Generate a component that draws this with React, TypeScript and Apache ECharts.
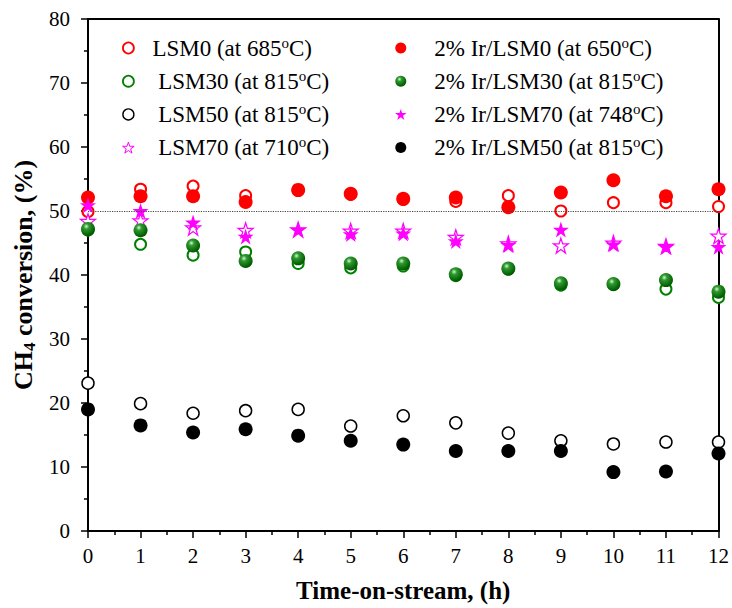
import React, { useEffect, useRef } from "react";
import * as echarts from "echarts";

const hours = [0, 1, 2, 3, 4, 5, 6, 7, 8, 9, 10, 11, 12];

const lsm0 = [49.9, 53.4, 53.9, 52.4, 53.2, 52.6, 51.8, 51.5, 52.4, 50.0, 51.3, 51.3, 50.7];
const lsm30 = [47.0, 44.8, 43.1, 43.6, 41.8, 41.1, 41.4, 39.9, 40.9, 38.4, 38.5, 37.8, 36.5];
const lsm50 = [23.1, 19.9, 18.4, 18.8, 19.0, 16.4, 18.0, 16.9, 15.3, 14.1, 13.6, 13.9, 13.9];
const lsm70 = [48.4, 48.5, 47.4, 47.0, 47.1, 46.9, 46.9, 45.9, 44.9, 44.6, 45.0, 44.5, 46.1];
const irLsm0 = [52.1, 52.3, 52.3, 51.4, 53.3, 52.7, 51.9, 52.1, 50.6, 52.9, 54.8, 52.3, 53.4];
const irLsm30 = [47.2, 47.0, 44.6, 42.2, 42.6, 41.8, 41.8, 40.1, 41.0, 38.7, 38.6, 39.2, 37.4];
const irLsm70 = [50.9, 50.0, 48.2, 46.0, 47.1, 46.4, 46.5, 45.3, 44.7, 47.1, 44.8, 44.4, 44.4];
const irLsm50 = [19.0, 16.5, 15.4, 15.9, 14.9, 14.1, 13.5, 12.5, 12.5, 12.5, 9.2, 9.3, 12.1];

const leftNames = ["LSM0", "LSM30", "LSM50", "LSM70"];
const leftTemps = ["685", "815", "815", "710"];
const rightNames = ["2% Ir/LSM0", "2% Ir/LSM30", "2% Ir/LSM70", "2% Ir/LSM50"];
const rightTemps = ["650", "815", "748", "815"];

const FONT = "'Liberation Serif', 'Times New Roman', Times, serif";
const STAR =
  "path://M50,0L61.2,34.5L97.6,34.5L68.2,55.9L79.4,90.5L50,69.1L20.6,90.5L31.8,55.9L2.4,34.5L38.8,34.5Z";

const toPts = (vals: number[]) => hours.map((h, i) => [h, vals[i]]);

export default function App() {
  const ref = useRef<HTMLDivElement>(null);
  useEffect(() => {
    if (!ref.current) return;
    const chart = echarts.init(ref.current, null, { renderer: "svg" });

    const greenBall = new echarts.graphic.RadialGradient(0.38, 0.32, 0.65, [
      { offset: 0, color: "#d8f5d8" },
      { offset: 0.3, color: "#2f9a2f" },
      { offset: 1, color: "#005a00" },
    ]);

    const styles: Record<string, { icon: string; itemStyle: any }> = {
      LSM0: { icon: "circle", itemStyle: { color: "#fff", borderColor: "#ff0000", borderWidth: 1.8 } },
      LSM30: { icon: "circle", itemStyle: { color: "#fff", borderColor: "#008000", borderWidth: 1.8 } },
      LSM50: { icon: "circle", itemStyle: { color: "#fff", borderColor: "#000", borderWidth: 1.4 } },
      LSM70: { icon: STAR, itemStyle: { color: "#fff", borderColor: "#ff00ff", borderWidth: 1 } },
      "2% Ir/LSM0": { icon: "circle", itemStyle: { color: "#ff0000", borderWidth: 0 } },
      "2% Ir/LSM30": { icon: "circle", itemStyle: { color: greenBall, borderWidth: 0 } },
      "2% Ir/LSM70": { icon: STAR, itemStyle: { color: "#ff00ff", borderWidth: 0 } },
      "2% Ir/LSM50": { icon: "circle", itemStyle: { color: "#000", borderWidth: 0 } },
    };

    const labelMap: Record<string, string> = {};
    leftNames.forEach((n, i) => {
      labelMap[n] = `{t|${i === 0 ? "" : " "}${n} (at ${leftTemps[i]}}{s|o}{t|C)}`;
    });
    rightNames.forEach((n, i) => {
      labelMap[n] = `{t|${n} (at ${rightTemps[i]}}{s|o}{t|C)}`;
    });

    const legendText = {
      fontFamily: FONT,
      fontSize: 23,
      color: "#000",
      rich: {
        t: { fontFamily: FONT, fontSize: 23, lineHeight: 26, color: "#000" },
        s: {
          fontFamily: FONT,
          fontSize: 15,
          lineHeight: 26,
          color: "#000",
          verticalAlign: "top",
        },
      },
    };

    const legendBase = {
      orient: "vertical",
      top: 35,
      padding: 0,
      itemHeight: 11,
      itemGap: 8.7,
      selectedMode: false,
      formatter: (n: string) => labelMap[n],
      textStyle: legendText,
    };

    const axisLabelStyle = { fontFamily: FONT, fontSize: 21, color: "#000" };

    const option: any = {
      animation: false,
      backgroundColor: "#fff",
      textStyle: { fontFamily: FONT },
      grid: { left: 88, right: 11, top: 19, bottom: 73, containLabel: false },
      legend: [
        {
          ...legendBase,
          left: 122,
          itemWidth: 38,
          data: leftNames.map((n) => ({ name: n, ...styles[n] })),
        },
        {
          ...legendBase,
          left: 395,
          itemWidth: 57,
          data: rightNames.map((n) => ({ name: n, ...styles[n] })),
        },
      ],
      xAxis: [
        {
          type: "value",
          min: 0,
          max: 12,
          interval: 1,
          position: "bottom",
          name: "Time-on-stream, (h)",
          nameLocation: "middle",
          nameGap: 47,
          nameTextStyle: { fontFamily: FONT, fontSize: 25, fontWeight: "bold", color: "#000" },
          axisLine: { show: true, onZero: false, lineStyle: { color: "#000", width: 2 } },
          axisTick: { show: true, inside: false, length: 7, lineStyle: { color: "#000", width: 1.5 } },
          minorTick: { show: true, splitNumber: 2, length: 4, lineStyle: { color: "#000", width: 1.5 } },
          axisLabel: { ...axisLabelStyle, margin: 14 },
          splitLine: { show: false },
        },
        {
          type: "value",
          min: 0,
          max: 12,
          position: "top",
          axisLine: { show: true, onZero: false, lineStyle: { color: "#000", width: 2 } },
          axisTick: { show: false },
          axisLabel: { show: false },
          splitLine: { show: false },
        },
      ],
      yAxis: [
        {
          type: "value",
          min: 0,
          max: 80,
          interval: 10,
          position: "left",
          name: "{t|CH}{b|4}{t| conversion, (%)}",
          nameLocation: "middle",
          nameRotate: 90,
          nameGap: 50,
          nameTextStyle: {
            fontFamily: FONT,
            fontSize: 26,
            fontWeight: "bold",
            color: "#000",
            rich: {
              t: { fontFamily: FONT, fontSize: 26, fontWeight: "bold", color: "#000", lineHeight: 30 },
              b: {
                fontFamily: FONT,
                fontSize: 17,
                fontWeight: "bold",
                color: "#000",
                lineHeight: 30,
                verticalAlign: "bottom",
              },
            },
          },
          axisLine: { show: true, onZero: false, lineStyle: { color: "#000", width: 2 } },
          axisTick: { show: true, inside: false, length: 7, lineStyle: { color: "#000", width: 1.5 } },
          minorTick: { show: true, splitNumber: 2, length: 4, lineStyle: { color: "#000", width: 1.5 } },
          axisLabel: { ...axisLabelStyle, margin: 18 },
          splitLine: { show: false },
        },
        {
          type: "value",
          min: 0,
          max: 80,
          position: "right",
          axisLine: { show: true, onZero: false, lineStyle: { color: "#000", width: 2 } },
          axisTick: { show: false },
          axisLabel: { show: false },
          splitLine: { show: false },
        },
      ],
      series: [
        {
          name: "LSM0",
          type: "scatter",
          clip: false,
          data: toPts(lsm0),
          symbol: "circle",
          symbolSize: 11,
          itemStyle: { color: "#fff", borderColor: "#ff0000", borderWidth: 2, opacity: 1 },
          markLine: {
            silent: true,
            symbol: "none",
            label: { show: false },
            lineStyle: { type: "dotted", color: "#444", width: 1.2 },
            data: [{ yAxis: 50 }],
          },
        },
        {
          name: "LSM30",
          type: "scatter",
          clip: false,
          data: toPts(lsm30),
          symbol: "circle",
          symbolSize: 11,
          itemStyle: { color: "#fff", borderColor: "#008000", borderWidth: 2, opacity: 1 },
        },
        {
          name: "LSM50",
          type: "scatter",
          clip: false,
          data: toPts(lsm50),
          symbol: "circle",
          symbolSize: 12,
          itemStyle: { color: "#fff", borderColor: "#000", borderWidth: 1.5, opacity: 1 },
        },
        {
          name: "LSM70",
          type: "scatter",
          clip: false,
          data: toPts(lsm70),
          symbol: STAR,
          symbolSize: 15,
          itemStyle: { color: "#fff", borderColor: "#ff00ff", borderWidth: 1.2, opacity: 1 },
        },
        {
          name: "2% Ir/LSM0",
          type: "scatter",
          clip: false,
          data: toPts(irLsm0),
          symbol: "circle",
          symbolSize: 14,
          itemStyle: { color: "#ff0000", opacity: 1 },
        },
        {
          name: "2% Ir/LSM30",
          type: "scatter",
          clip: false,
          data: toPts(irLsm30),
          symbol: "circle",
          symbolSize: 14,
          itemStyle: { color: greenBall, opacity: 1 },
        },
        {
          name: "2% Ir/LSM70",
          type: "scatter",
          clip: false,
          data: toPts(irLsm70),
          symbol: STAR,
          symbolSize: 16,
          itemStyle: { color: "#ff00ff", opacity: 1 },
        },
        {
          name: "2% Ir/LSM50",
          type: "scatter",
          clip: false,
          data: toPts(irLsm50),
          symbol: "circle",
          symbolSize: 14,
          itemStyle: { color: "#000", opacity: 1 },
        },
      ],
    };

    chart.setOption(option);
    return () => chart.dispose();
  }, []);

  return (
    <div
      ref={ref}
      style={{ position: "fixed", left: 0, top: 0, width: 732, height: 608, background: "#fff" }}
    />
  );
}
